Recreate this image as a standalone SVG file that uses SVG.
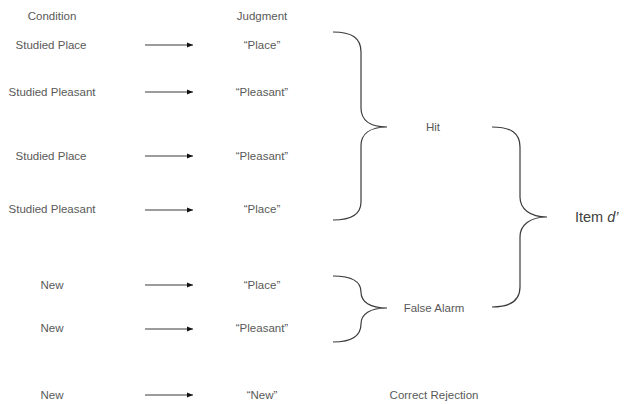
<svg xmlns="http://www.w3.org/2000/svg" width="627" height="404" viewBox="0 0 627 404">
<style>
text{font-family:"Liberation Sans","Open Sans",sans-serif;font-size:11.5px;fill:#595959;text-anchor:middle;dominant-baseline:central}
.big{font-size:14.5px;fill:#404040;text-anchor:start}
.c path,.c line{fill:none;stroke:#3a3a3a;stroke-width:1.2}
</style>
<defs>
<marker id="ah" viewBox="0 0 10 10" refX="10" refY="5" markerWidth="6" markerHeight="6" markerUnits="userSpaceOnUse" orient="auto">
<path d="M0,1 L10,5 L0,9 Z" fill="#111"/>
</marker>
</defs>
<g id="headers">
<text x="52" y="16">Condition</text>
<text x="262" y="16">Judgment</text>
</g>
<g id="conditions">
<text x="51" y="45">Studied Place</text>
<text x="52" y="92">Studied Pleasant</text>
<text x="51" y="156">Studied Place</text>
<text x="52" y="209">Studied Pleasant</text>
<text x="52" y="285">New</text>
<text x="52" y="328">New</text>
<text x="52" y="395">New</text>
</g>
<g id="judgments">
<text x="262" y="45">“Place”</text>
<text x="262" y="92">“Pleasant”</text>
<text x="262" y="156">“Pleasant”</text>
<text x="262" y="209">“Place”</text>
<text x="262" y="285">“Place”</text>
<text x="262" y="328">“Pleasant”</text>
<text x="262" y="395">“New”</text>
</g>
<g id="outcomes">
<text x="433" y="127">Hit</text>
<text x="434" y="308">False Alarm</text>
<text x="434" y="395">Correct Rejection</text>
<text class="big" x="575" y="217">Item <tspan font-style="italic">d’</tspan></text>
</g>
<g id="connectors" class="c">
<line x1="145" y1="45" x2="193" y2="45" marker-end="url(#ah)"/>
<line x1="145" y1="92" x2="193" y2="92" marker-end="url(#ah)"/>
<line x1="145" y1="156" x2="193" y2="156" marker-end="url(#ah)"/>
<line x1="145" y1="210" x2="193" y2="210" marker-end="url(#ah)"/>
<line x1="145" y1="285" x2="193" y2="285" marker-end="url(#ah)"/>
<line x1="145" y1="329" x2="193" y2="329" marker-end="url(#ah)"/>
<line x1="145" y1="395" x2="193" y2="395" marker-end="url(#ah)"/>
<path id="brace-hit" d="M333,32 C352,32 361,38 361,52 L361,108 C361,120 370,127 387,127 C370,127 361,134 361,146 L361,202 C361,214 352,220 333,220"/>
<path id="brace-item" d="M492,127 C511,127 520,133 520,147 L520,197 C520,209 530,217 547,217 C530,217 520,225 520,237 L520,287 C520,300 511,307 492,307"/>
<path id="brace-fa" d="M333,276 C352,276 361,282 361,292 C361,302 370,308 387,308 C370,308 361,314 361,324 C361,336 352,342 333,342"/>
</g>
</svg>
